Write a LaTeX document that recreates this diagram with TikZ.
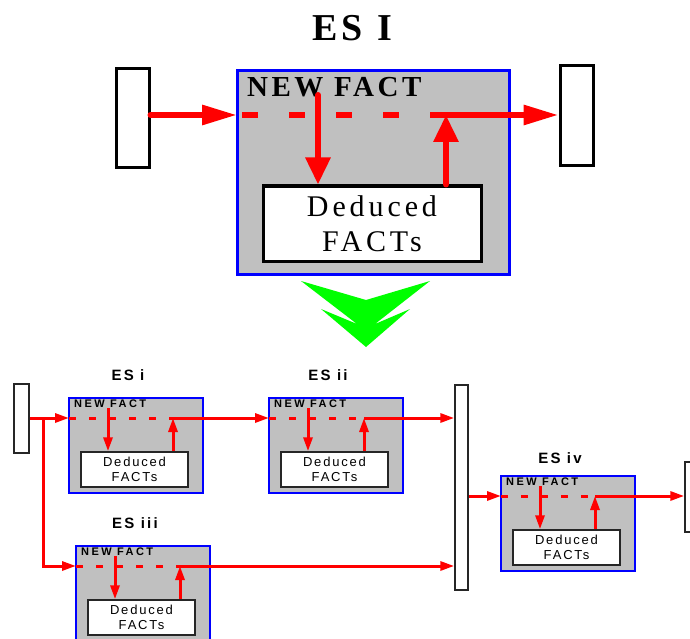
\documentclass[tikz,border=0pt]{standalone}
\usepackage{fontspec}
\setmainfont{Liberation Serif}
\setsansfont{Liberation Sans}
\usetikzlibrary{positioning, arrows.meta}

\definecolor{boxgray}{HTML}{C0C0C0}
\definecolor{flowred}{HTML}{FF0000}
\definecolor{esblue}{HTML}{0000FF}
\definecolor{mergegreen}{HTML}{00FF00}

\begin{document}
\begin{tikzpicture}[
    x=1pt, y=-1pt,
    big_flow/.style  ={draw=flowred, line width=6pt, line cap=round, -{Triangle[length=35pt, width=19pt]}},
    big_rise/.style  ={big_flow, -{Triangle[length=27pt, width=24pt]}},
    big_dash/.style  ={draw=flowred, line width=6pt, dash pattern=on 16pt off 31pt, dash phase=42pt},
    tank_big/.style  ={draw=black, fill=white, line width=3pt, inner sep=0pt},
    es_big/.style    ={draw=esblue, fill=boxgray, line width=3pt, inner sep=0pt},
    ded_big/.style   ={draw=black, fill=white, line width=3pt, inner sep=0pt, align=center,
                       font=\rmfamily\addfontfeature{LetterSpace=13}\fontsize{30}{35}\selectfont},
    small_flow/.style={draw=flowred, line width=3pt, -{Triangle[length=14pt, width=9pt]}},
    small_dash/.style={draw=flowred, line width=3pt, dash pattern=on 7pt off 13pt},
    tank_small/.style={draw=black!85, fill=white, line width=1.5pt, inner sep=0pt},
    es_small/.style  ={draw=esblue, fill=boxgray, line width=1.5pt, inner sep=0pt,
                       minimum width=134pt, minimum height=95pt},
    ded_small/.style ={draw=black!85, fill=white, line width=1.5pt, inner sep=0pt, align=center,
                       minimum width=107pt, minimum height=35pt,
                       font=\sffamily\addfontfeature{LetterSpace=14}\fontsize{13}{14.5}\selectfont},
    lbl_small/.style ={inner sep=0pt, font=\sffamily\bfseries\addfontfeature{LetterSpace=15}\fontsize{15}{15}\selectfont},
    fact_small/.style={inner sep=0pt, anchor=base west,
                       font=\sffamily\bfseries\addfontfeature{LetterSpace=22}\fontsize{11}{11}\selectfont}
]
\useasboundingbox (0,0) rectangle (690,639);

% Single expert system
\node[inner sep=0pt, font=\rmfamily\bfseries\addfontfeature{LetterSpace=12}\fontsize{38}{38}\selectfont]
    (title) at (352,28) {ES I};
\node[tank_big, minimum width=33pt, minimum height=99pt] (srcI) at (132.5,118.5) {};
\node[tank_big, minimum width=33pt, minimum height=100pt] (sinkI) at (576.5,116) {};
\node[es_big, minimum width=272pt, minimum height=203pt] (esI) at (373,172.5) {};
\node[inner sep=0pt, anchor=base west, font=\rmfamily\bfseries\addfontfeature{LetterSpace=12}\fontsize{29}{29}\selectfont]
    (factI) at (247,97) {NEW FACT};
\node[ded_big, minimum width=218pt, minimum height=75pt] (dedI) at (372,223.5) {Deduced\\FACTs};

\coordinate (busI_in) at (237,115);
\coordinate (busI_out) at (446,115);
\coordinate (dropI) at (318,95);

\draw[big_flow] (srcI.east |- busI_in) -- (busI_in);
\draw[big_dash] (busI_in) -- (busI_out);
\draw[big_rise] (dropI) -- (dropI |- dedI.north);
\draw[big_rise] (busI_out |- dedI.north) -- (busI_out);
\draw[big_flow] (busI_out) -- (sinkI.west |- busI_out);

% Split arrow
\fill[mergegreen] (301,281) -- (366,300) -- (430,281) -- (375,324) -- (410,309)
    -- (366,347) -- (321,309) -- (357,324) -- cycle;

% Network of expert systems
\foreach \n/\lbl/\x/\y/\up/\gap in {i/ES i/69/398/104/16, ii/ES ii/269/398/95/16,
                                     iii/ES iii/76/546/104/16, iv/ES iv/501/476/94/11} {
    \node[es_small] (es-\n) at (\x+67,\y+47.5) {};
    \node[lbl_small, above=\gap pt of es-\n, xshift=-8pt] (lbl-\n) {\lbl};
    \node[fact_small] (fact-\n) at (\x+5,\y+9.5) {NEW FACT};
    \node[ded_small] (ded-\n) at (\x+65.5,\y+71.5) {Deduced\\FACTs};
    \coordinate (in-\n) at (\x,\y+20);
    \coordinate (out-\n) at (\x+\up,\y+20);
    \coordinate (drop-\n) at (\x+39,\y+10);
    \draw[small_dash] (in-\n) -- (out-\n);
    \draw[small_flow] (drop-\n) -- (drop-\n |- ded-\n.north);
    \draw[small_flow] (out-\n |- ded-\n.north) -- (out-\n);
}

\node[tank_small, minimum width=15pt, minimum height=69pt] (src) at (21.5,418.5) {};
\node[tank_small, minimum width=13pt, minimum height=205pt] (merge) at (461.5,487.5) {};
\node[tank_small, minimum width=15pt, minimum height=70pt] (sink) at (692.5,497) {};
\coordinate (split) at (43,418);

\draw[small_flow] (src.east |- in-i) -- (in-i);
\draw[small_flow] (split) |- (in-iii);
\draw[small_flow] (out-i) -- (in-ii);
\draw[small_flow] (out-ii) -- (merge.west |- out-ii);
\draw[small_flow] (out-iii) -- (merge.west |- out-iii);
\draw[small_flow] (merge.east |- in-iv) -- (in-iv);
\draw[small_flow] (out-iv) -- (sink.west |- out-iv);

\end{tikzpicture}
\end{document}
